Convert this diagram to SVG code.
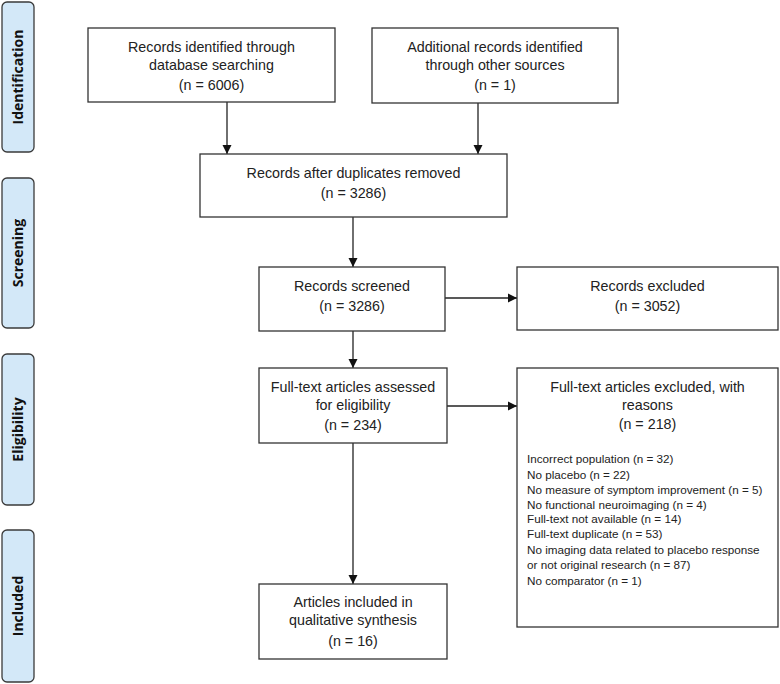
<svg xmlns="http://www.w3.org/2000/svg" width="780" height="684" viewBox="0 0 780 684">
<defs>
<style>
.box{fill:#fff;stroke:#333;stroke-width:1.3}
.lab{fill:#d3e8f8;stroke:#3a3a3a;stroke-width:1.3}
.t{font-family:"Liberation Sans",Arial,sans-serif;font-size:14.3px;fill:#222;text-anchor:middle}
.s{font-family:"Liberation Sans",Arial,sans-serif;font-size:11.7px;fill:#222}
.lt{font-family:"Open Sans","DejaVu Sans",sans-serif;font-weight:bold;font-size:14px;fill:#111;text-anchor:middle}
.c{stroke:#222;stroke-width:1.3;fill:none;marker-end:url(#ah)}
</style>
<marker id="ah" markerWidth="10" markerHeight="10" refX="9" refY="5" orient="auto" markerUnits="userSpaceOnUse">
<path d="M0,0.5 L9,5 L0,9.5 Z" fill="#111"/>
</marker>
</defs>
<rect width="780" height="684" fill="#fff"/>
<g id="label-identification"><rect class="lab" x="2" y="2" width="32" height="150" rx="5"/><text class="lt" transform="translate(23,77) rotate(-90)">Identification</text></g>
<g id="label-screening"><rect class="lab" x="2" y="178" width="32" height="150" rx="5"/><text class="lt" transform="translate(23,253) rotate(-90)">Screening</text></g>
<g id="label-eligibility"><rect class="lab" x="2" y="354" width="32" height="151" rx="5"/><text class="lt" transform="translate(23,429.5) rotate(-90)">Eligibility</text></g>
<g id="label-included"><rect class="lab" x="2" y="530" width="32" height="152" rx="5"/><text class="lt" transform="translate(23,606) rotate(-90)">Included</text></g>

<g id="connectors">
<line class="c" x1="227" y1="102" x2="227" y2="154"/>
<line class="c" x1="478" y1="103" x2="478" y2="154"/>
<line class="c" x1="353" y1="217" x2="353" y2="267"/>
<line class="c" x1="445" y1="298" x2="517" y2="298"/>
<line class="c" x1="353" y1="331" x2="353" y2="368"/>
<line class="c" x1="447" y1="406" x2="517" y2="406"/>
<line class="c" x1="353" y1="443" x2="353" y2="584"/>
</g>

<g id="n-db"><rect class="box" x="88" y="28" width="247" height="74"/>
<text class="t" x="211.5" y="52">Records identified through</text>
<text class="t" x="211.5" y="70">database searching</text>
<text class="t" x="211.5" y="90">(n = 6006)</text></g>
<g id="n-other"><rect class="box" x="372" y="28" width="246" height="75"/>
<text class="t" x="495" y="52">Additional records identified</text>
<text class="t" x="495" y="70">through other sources</text>
<text class="t" x="495" y="90">(n = 1)</text></g>
<g id="n-dup"><rect class="box" x="200" y="154" width="307" height="63"/>
<text class="t" x="353.5" y="178">Records after duplicates removed</text>
<text class="t" x="353.5" y="198">(n = 3286)</text></g>
<g id="n-screened"><rect class="box" x="259" y="267" width="186" height="64"/>
<text class="t" x="352" y="291">Records screened</text>
<text class="t" x="352" y="311">(n = 3286)</text></g>
<g id="n-excl"><rect class="box" x="517" y="267" width="261" height="63"/>
<text class="t" x="647.5" y="291">Records excluded</text>
<text class="t" x="647.5" y="311">(n = 3052)</text></g>
<g id="n-full"><rect class="box" x="259" y="368" width="188" height="75"/>
<text class="t" x="353" y="392">Full-text articles assessed</text>
<text class="t" x="353" y="410">for eligibility</text>
<text class="t" x="353" y="430">(n = 234)</text></g>
<g id="n-fullexcl"><rect class="box" x="517" y="368" width="261" height="259"/>
<text class="t" x="647.5" y="392">Full-text articles excluded, with</text>
<text class="t" x="647.5" y="410">reasons</text>
<text class="t" x="647.5" y="429">(n = 218)</text>
<text class="s" x="527" y="463">Incorrect population (n = 32)</text>
<text class="s" x="527" y="479">No placebo (n = 22)</text>
<text class="s" x="527" y="494">No measure of symptom improvement (n = 5)</text>
<text class="s" x="527" y="509">No functional neuroimaging (n = 4)</text>
<text class="s" x="527" y="523">Full-text not available (n = 14)</text>
<text class="s" x="527" y="538">Full-text duplicate (n = 53)</text>
<text class="s" x="527" y="554">No imaging data related to placebo response</text>
<text class="s" x="527" y="569">or not original research (n = 87)</text>
<text class="s" x="527" y="585">No comparator (n = 1)</text></g>
<g id="n-incl"><rect class="box" x="259" y="584" width="188" height="75"/>
<text class="t" x="353" y="607">Articles included in</text>
<text class="t" x="353" y="625">qualitative synthesis</text>
<text class="t" x="353" y="646">(n = 16)</text></g>
</svg>
